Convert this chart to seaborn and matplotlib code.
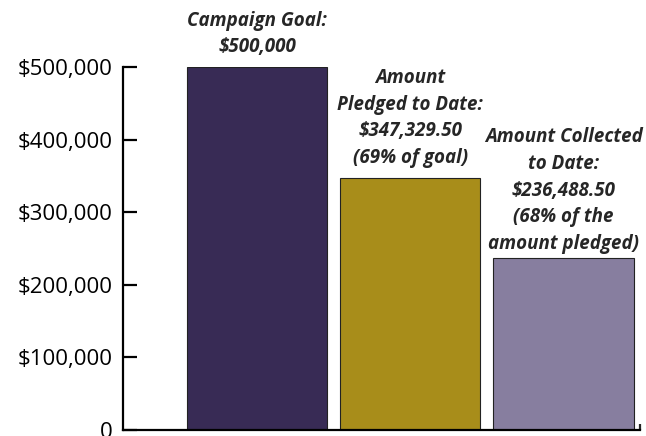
import matplotlib
matplotlib.use('Agg')
import matplotlib.pyplot as plt
import seaborn as sns
import pandas as pd
from matplotlib.ticker import FuncFormatter

categories = ['Campaign Goal', 'Amount Pledged', 'Amount Collected']
amounts = [500000, 347329.50, 236488.50]
bar_labels = [
    'Campaign Goal:\n$500,000',
    'Amount\nPledged to Date:\n$347,329.50\n(69% of goal)',
    'Amount Collected\nto Date:\n$236,488.50\n(68% of the\namount pledged)',
]
bar_colors = ['#382b55', '#a88d1a', '#877e9f']
y_ticks = [0, 100000, 200000, 300000, 400000, 500000]

# label gap above each bar, in points
label_gaps = [7, 7, 3]

sns.set_style('white')
plt.rcParams['font.family'] = ['Open Sans', 'DejaVu Sans']

df = pd.DataFrame({'category': categories, 'amount': amounts})

fig = plt.figure(figsize=(6.46, 4.36), dpi=100)
ax = fig.add_axes([0.19, 0.014, 0.801, 0.832])

sns.barplot(data=df, x='category', y='amount', hue='category',
            palette=bar_colors, width=0.915, edgecolor='#222222',
            linewidth=0.8, legend=False, ax=ax, saturation=1)

ax.set_xlim(-0.876, 2.5)
ax.set_ylim(0, 500000)
ax.set_yticks(y_ticks)
ax.yaxis.set_major_formatter(FuncFormatter(
    lambda v, p: '0' if v == 0 else '${:,.0f}'.format(v)))
ax.set_xticks([2.5])
ax.set_xticklabels([''])
ax.set_xlabel('')
ax.set_ylabel('')

for s in ['top', 'right']:
    ax.spines[s].set_visible(False)
for s in ['left', 'bottom']:
    ax.spines[s].set_linewidth(1.6)
    ax.spines[s].set_color('black')

ax.tick_params(axis='y', direction='in', length=10, width=1.6,
               labelsize=16, pad=7.5, colors='black', left=True)
ax.tick_params(axis='x', direction='in', length=4, width=1.6, bottom=True)

for i, (val, lab) in enumerate(zip(amounts, bar_labels)):
    ax.annotate(lab, xy=(i, val), xytext=(0, label_gaps[i]),
                textcoords='offset points', ha='center', va='bottom',
                fontsize=13.5, fontweight='bold', fontstyle='italic',
                linespacing=1.45, annotation_clip=False)

plt.savefig('out.png', dpi=100)
